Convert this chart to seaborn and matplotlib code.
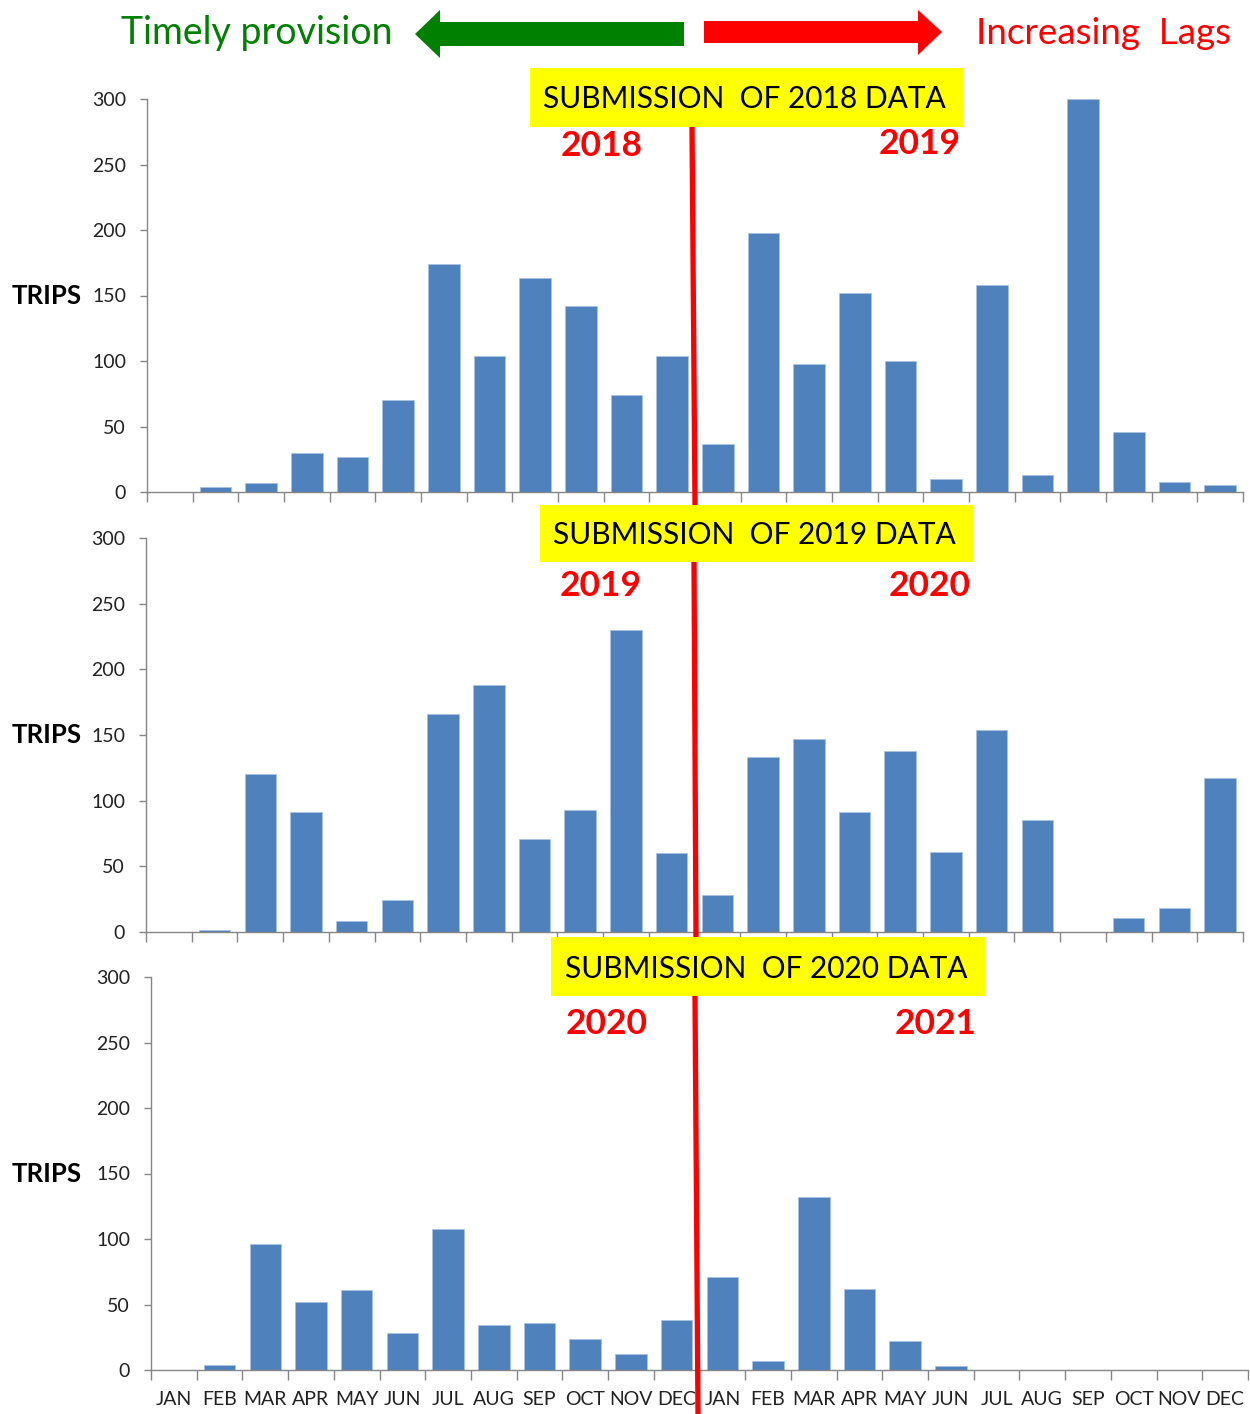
import numpy as np
import pandas as pd
import matplotlib
matplotlib.use("Agg")
import matplotlib.pyplot as plt
from matplotlib.patches import Rectangle, Polygon
from matplotlib.lines import Line2D
import seaborn as sns

# ---------------- data ----------------
months = ["JAN", "FEB", "MAR", "APR", "MAY", "JUN",
          "JUL", "AUG", "SEP", "OCT", "NOV", "DEC"]
slot_labels = months + months

trips_2018_2019 = [0, 4, 7, 30, 27, 70, 174, 104, 163, 142, 74, 104,
                   37, 198, 98, 152, 100, 10, 158, 13, 300, 46, 8, 5]
trips_2019_2020 = [0, 1.5, 120, 91, 8, 24, 166, 188, 71, 93, 230, 60,
                   28, 133, 147, 91, 138, 61, 154, 85, 0, 11, 18, 117]
trips_2020_2021 = [0, 4, 96, 52, 61, 28, 108, 34, 36, 24, 12, 38,
                   71, 7, 132, 62, 22, 3, 0, 0, 0, 0, 0, 0]

panel_titles = ["SUBMISSION  OF 2018 DATA", "SUBMISSION  OF 2019 DATA",
                "SUBMISSION  OF 2020 DATA"]
panel_years = [("2018", "2019"), ("2019", "2020"), ("2020", "2021")]
yticks = [0, 50, 100, 150, 200, 250, 300]

# ---------------- style ----------------
sns.set_theme(style="white")
plt.rcParams["font.family"] = ["Lato", "DejaVu Sans"]

BAR = "#4F81BD"
GREY = "#868686"
W, H = 1250, 1414

fig = plt.figure(figsize=(12.5, 14.14), dpi=100)
fig.patch.set_facecolor("white")

# axes rectangles (pixel geometry of reference)
rects = [(147, 492, 1096, 393), (146, 932, 1097, 394), (151, 1370, 1097, 393)]
series = [trips_2018_2019, trips_2019_2020, trips_2020_2021]

axes = []
for i, ((x0, ybot, w, h), vals) in enumerate(zip(rects, series)):
    ax = fig.add_axes([x0 / W, 1 - ybot / H, w / W, h / H])
    df = pd.DataFrame({"slot": np.arange(24), "trips": vals})
    sns.barplot(data=df, x="slot", y="trips", color=BAR, saturation=1,
                width=0.69, edgecolor="#A9C2E2", linewidth=0.6, ax=ax)
    ax.set_xlim(-0.5, 23.5)
    ax.set_ylim(0, 300)
    ax.set_yticks(yticks)
    ax.set_yticklabels([str(t) for t in yticks])
    ax.set_xticks(np.arange(-0.5, 24, 1))
    ax.set_xticklabels([])
    ax.set_xticks(np.arange(24), minor=True)
    if i == 2:
        ax.set_xticklabels(slot_labels, minor=True)
    else:
        ax.set_xticklabels([""] * 24, minor=True)
    ax.tick_params(axis="x", which="major", direction="out", length=7,
                   width=1, color=GREY, bottom=True)
    ax.tick_params(axis="x", which="minor", length=0, pad=15,
                   labelsize=14, labelcolor="#222222", bottom=True)
    ax.tick_params(axis="y", direction="out", length=5, width=1, color=GREY,
                   pad=10, labelsize=14, labelcolor="#222222", left=True)
    for s in ["top", "right"]:
        ax.spines[s].set_visible(False)
    for s in ["left", "bottom"]:
        ax.spines[s].set_color(GREY)
        ax.spines[s].set_linewidth(1)
    ax.set_xlabel("")
    ax.set_ylabel("TRIPS", rotation=0, fontsize=18.5, fontweight="bold",
                  color="black", ha="center", va="center")
    ax.yaxis.set_label_coords(-(x0 - 47) / w, 0.5)
    ax.set_facecolor("none")
    axes.append(ax)

# ---------------- overlay annotations (pixel coords) ----------------
ov = fig.add_axes([0, 0, 1, 1], zorder=10)
ov.set_xlim(0, W)
ov.set_ylim(H, 0)
ov.axis("off")
ov.set_facecolor("none")

# header arrows
ov.add_patch(Polygon([(415, 34), (440, 10), (440, 22), (684, 22), (684, 46),
                      (440, 46), (440, 58)], closed=True,
                     facecolor="#008000", edgecolor="none", zorder=2))
ov.add_patch(Polygon([(704, 21), (918, 21), (918, 10), (942, 32), (918, 55),
                      (918, 43), (704, 43)], closed=True,
                     facecolor="#FF0000", edgecolor="none", zorder=2))
ov.text(257, 33, "Timely provision", color="#008000", fontsize=27,
        ha="center", va="center", zorder=3)
ov.text(1103, 33, "Increasing  Lags", color="#FF0000", fontsize=26.5,
        ha="center", va="center", zorder=3)

# red separator lines
for (xa, ya, xb, yb) in [(692, 127, 695, 505), (694, 562, 696, 937),
                         (695, 996, 698, 1414)]:
    ov.add_line(Line2D([xa, xb], [ya, yb], color="#FF0000", lw=3.8,
                       zorder=4, solid_capstyle="butt"))

# yellow boxes + titles
boxes = [(530, 68, 433, 59), (540, 505, 433, 57), (551, 937, 434, 59)]
for (bx, by, bw, bh), title in zip(boxes, panel_titles):
    ov.add_patch(Rectangle((bx, by), bw, bh, facecolor="#FFFF00",
                           edgecolor="none", zorder=5))
    ov.text(bx + bw / 2 - 2, by + bh / 2 + 2, title, fontsize=21.5,
            color="black", ha="center", va="center", zorder=6)

# red year labels
year_pos = [((602, 146), (920, 144)), ((601, 586), (930, 586)),
            ((607, 1024), (936, 1024))]
for (p1, p2), (y1, y2) in zip(year_pos, panel_years):
    ov.text(p1[0], p1[1], y1, fontsize=25.5, fontweight="bold",
            color="#FF0000", ha="center", va="center", zorder=6)
    ov.text(p2[0], p2[1], y2, fontsize=25.5, fontweight="bold",
            color="#FF0000", ha="center", va="center", zorder=6)

fig.savefig("out.png", dpi=100, facecolor="white")
